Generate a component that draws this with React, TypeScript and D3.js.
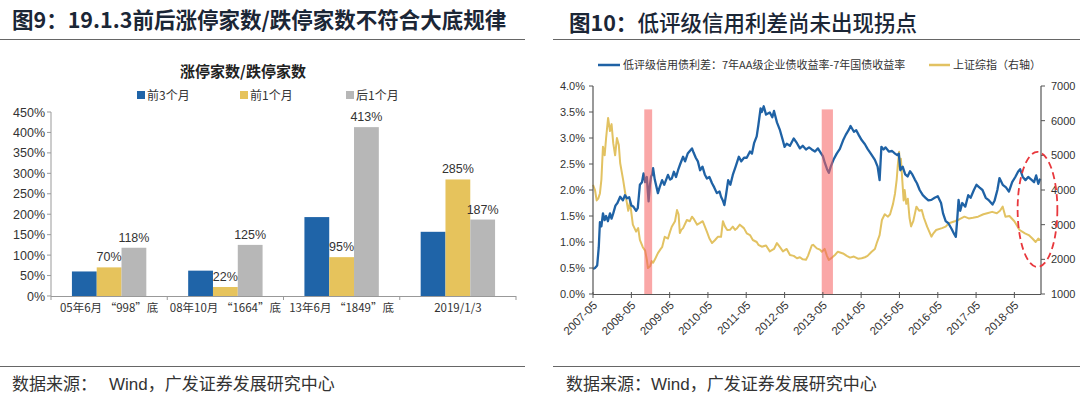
import React from "react";
import * as d3 from "d3";

// ---------- Left chart data ----------
const barCategories = ["05年6月 “998”底", "08年10月 “1664”底", "13年6月 “1849”底", "2019/1/3"];
const barSeriesNames = ["前3个月", "前1个月", "后1个月"];
const before3m = [60, 62, 193, 157];
const before1m = [70, 22, 95, 285];
const after1m = [118, 125, 413, 187];
const barYTicks = [0, 50, 100, 150, 200, 250, 300, 350, 400, 450];
const barColors = ["#1f64a8", "#e6c35c", "#b7b7b7"];

// ---------- Right chart data ----------
const spreadSeries: [string, number][] = [
  ["2007-05-01", 0.48], ["2007-05-20", 0.5], ["2007-06-10", 0.55], ["2007-06-25", 0.9], ["2007-07-06", 1.38],
  ["2007-07-20", 1.3], ["2007-08-04", 1.55], ["2007-08-20", 1.42], ["2007-09-03", 1.5], ["2007-09-20", 1.4],
  ["2007-10-10", 1.55], ["2007-10-25", 1.45], ["2007-11-10", 1.55], ["2007-12-01", 1.7], ["2007-12-20", 1.75],
  ["2008-01-15", 1.87], ["2008-02-10", 1.8], ["2008-03-01", 1.9], ["2008-03-20", 1.84], ["2008-04-10", 1.86],
  ["2008-05-01", 1.7], ["2008-05-20", 1.68], ["2008-06-15", 1.6], ["2008-07-01", 1.65], ["2008-07-21", 2.1],
  ["2008-08-10", 2.15], ["2008-08-25", 2.32], ["2008-09-10", 2.15], ["2008-09-25", 2.25], ["2008-10-06", 1.95],
  ["2008-10-12", 1.78], ["2008-10-25", 2.1], ["2008-11-05", 2.26], ["2008-11-15", 2.3], ["2008-11-24", 2.42],
  ["2008-12-10", 2.2], ["2009-01-09", 1.94], ["2009-01-25", 2.05], ["2009-02-18", 2.19], ["2009-03-10", 2.1],
  ["2009-04-15", 2.29], ["2009-05-05", 2.2], ["2009-05-21", 2.22], ["2009-06-10", 2.35], ["2009-07-01", 2.25],
  ["2009-07-20", 2.38], ["2009-08-10", 2.5], ["2009-09-06", 2.64], ["2009-09-25", 2.55], ["2009-10-20", 2.7],
  ["2009-11-30", 2.8], ["2009-12-15", 2.72], ["2010-01-05", 2.62], ["2010-01-25", 2.55], ["2010-02-15", 2.38],
  ["2010-03-10", 2.45], ["2010-04-01", 2.3], ["2010-04-21", 2.22], ["2010-05-15", 2.25], ["2010-06-09", 2.13],
  ["2010-06-30", 2.05], ["2010-07-25", 1.94], ["2010-08-20", 1.97], ["2010-09-03", 1.87], ["2010-09-20", 1.8],
  ["2010-10-05", 1.71], ["2010-10-20", 1.9], ["2010-11-10", 2.19], ["2010-12-01", 2.1], ["2010-12-24", 2.29],
  ["2011-01-20", 2.45], ["2011-02-20", 2.64], ["2011-03-15", 2.55], ["2011-04-10", 2.62], ["2011-05-06", 2.62],
  ["2011-06-06", 2.74], ["2011-06-25", 2.7], ["2011-07-15", 2.9], ["2011-08-09", 3.03], ["2011-08-25", 3.25],
  ["2011-09-15", 3.57], ["2011-09-27", 3.5], ["2011-10-15", 3.61], ["2011-11-06", 3.45], ["2011-12-12", 3.49],
  ["2012-01-05", 3.4], ["2012-01-21", 3.52], ["2012-02-18", 3.3], ["2012-03-18", 3.15], ["2012-04-15", 2.95],
  ["2012-05-01", 2.83], ["2012-05-21", 2.89], ["2012-06-21", 2.85], ["2012-07-27", 2.99], ["2012-08-27", 2.9],
  ["2012-09-24", 2.8], ["2012-10-21", 2.85], ["2012-11-21", 2.78], ["2012-12-20", 2.82], ["2013-01-15", 2.78],
  ["2013-02-15", 2.74], ["2013-03-15", 2.8], ["2013-04-03", 2.74], ["2013-05-01", 2.65], ["2013-05-20", 2.52],
  ["2013-06-10", 2.4], ["2013-06-27", 2.33], ["2013-07-15", 2.45], ["2013-08-10", 2.58], ["2013-09-10", 2.7],
  ["2013-10-10", 2.79], ["2013-11-09", 2.95], ["2013-12-05", 3.06], ["2014-01-01", 3.15], ["2014-01-20", 3.23],
  ["2014-02-21", 3.12], ["2014-03-15", 3.15], ["2014-04-10", 3.05], ["2014-05-06", 2.96], ["2014-06-06", 2.88],
  ["2014-07-01", 2.79], ["2014-08-01", 2.7], ["2014-09-09", 2.58], ["2014-10-05", 2.45], ["2014-10-24", 2.19],
  ["2014-11-10", 2.83], ["2014-12-01", 2.78], ["2014-12-20", 2.82], ["2015-01-20", 2.74], ["2015-02-20", 2.75],
  ["2015-03-20", 2.7], ["2015-04-10", 2.67], ["2015-04-25", 2.7], ["2015-05-10", 2.38], ["2015-06-01", 2.45],
  ["2015-06-25", 2.3], ["2015-07-18", 2.26], ["2015-08-10", 2.36], ["2015-09-01", 2.3], ["2015-09-25", 2.2],
  ["2015-10-15", 2.13], ["2015-11-10", 2.0], ["2015-12-10", 1.9], ["2016-01-05", 1.85], ["2016-02-01", 1.8],
  ["2016-03-01", 1.81], ["2016-04-01", 1.85], ["2016-05-01", 1.88], ["2016-06-01", 1.75], ["2016-06-20", 1.55],
  ["2016-07-15", 1.4], ["2016-08-10", 1.36], ["2016-09-10", 1.25], ["2016-10-05", 1.15], ["2016-10-20", 1.1],
  ["2016-11-01", 1.4], ["2016-11-15", 1.81], ["2016-12-01", 1.6], ["2016-12-20", 1.75], ["2017-01-18", 1.68],
  ["2017-02-15", 1.9], ["2017-03-10", 1.85], ["2017-04-10", 2.0], ["2017-05-05", 2.1], ["2017-06-01", 2.05],
  ["2017-07-01", 2.0], ["2017-08-01", 1.85], ["2017-09-01", 1.8], ["2017-10-05", 1.72], ["2017-10-25", 1.8],
  ["2017-11-20", 2.0], ["2017-12-10", 2.23], ["2018-01-10", 2.1], ["2018-02-10", 2.05], ["2018-03-10", 1.97],
  ["2018-04-10", 2.15], ["2018-05-10", 2.25], ["2018-06-05", 2.35], ["2018-06-25", 2.4], ["2018-07-20", 2.25],
  ["2018-08-15", 2.19], ["2018-09-10", 2.25], ["2018-10-10", 2.2], ["2018-11-05", 2.15], ["2018-11-25", 2.28],
  ["2018-12-15", 2.12], ["2019-01-03", 2.22],
];

const sseSeries: [string, number][] = [
  ["2007-05-01", 4150], ["2007-05-20", 4000], ["2007-06-05", 3700], ["2007-06-20", 3750], ["2007-07-06", 3900],
  ["2007-07-20", 4300], ["2007-08-04", 5250], ["2007-08-20", 5000], ["2007-09-03", 5500], ["2007-09-22", 6080],
  ["2007-10-10", 5700], ["2007-10-25", 5900], ["2007-11-10", 5350], ["2007-11-28", 5000], ["2007-12-15", 5500],
  ["2008-01-02", 5300], ["2008-01-15", 4780], ["2008-02-12", 4300], ["2008-03-01", 3950], ["2008-04-01", 3400],
  ["2008-04-18", 3650], ["2008-05-15", 3000], ["2008-06-15", 2800], ["2008-07-05", 2900], ["2008-07-21", 2560],
  ["2008-08-18", 2350], ["2008-09-09", 2250], ["2008-09-25", 2000], ["2008-10-06", 1750], ["2008-10-27", 1800],
  ["2008-11-10", 1950], ["2008-11-24", 1900], ["2008-12-12", 2000], ["2009-01-09", 2180], ["2009-02-05", 2300],
  ["2009-02-18", 2350], ["2009-03-15", 2650], ["2009-04-15", 2600], ["2009-05-05", 2800], ["2009-05-21", 2940],
  ["2009-06-21", 3100], ["2009-07-10", 3420], ["2009-07-25", 3300], ["2009-08-06", 2760], ["2009-08-20", 2850],
  ["2009-09-06", 2900], ["2009-10-12", 3135], ["2009-11-10", 3100], ["2009-11-30", 3230], ["2009-12-20", 3150],
  ["2010-01-18", 3000], ["2010-02-15", 3050], ["2010-03-12", 3100], ["2010-04-21", 2800], ["2010-05-15", 2600],
  ["2010-06-09", 2470], ["2010-07-06", 2550], ["2010-08-03", 2650], ["2010-09-03", 2650], ["2010-09-21", 3100],
  ["2010-10-10", 2950], ["2010-11-01", 2846], ["2010-11-27", 2850], ["2010-12-24", 2942], ["2011-01-15", 2850],
  ["2011-02-03", 2900], ["2011-03-01", 3000], ["2011-04-09", 2900], ["2011-05-06", 2750], ["2011-06-06", 2700],
  ["2011-07-03", 2558], ["2011-08-09", 2500], ["2011-08-25", 2420], ["2011-09-27", 2365], ["2011-11-06", 2400],
  ["2011-12-12", 2230], ["2012-01-21", 2300], ["2012-02-18", 2470], ["2012-03-18", 2350], ["2012-04-15", 2230],
  ["2012-05-21", 2300], ["2012-06-21", 2125], ["2012-07-27", 2100], ["2012-08-27", 2030], ["2012-09-24", 2060],
  ["2012-10-21", 2000], ["2012-11-21", 1990], ["2012-12-10", 2100], ["2013-01-15", 2400], ["2013-01-28", 2420],
  ["2013-03-04", 2317], ["2013-04-03", 2280], ["2013-04-21", 2220], ["2013-05-18", 2300], ["2013-06-09", 2100],
  ["2013-06-27", 1980], ["2013-07-27", 2050], ["2013-08-24", 2125], ["2013-09-21", 2220], ["2013-11-09", 2170],
  ["2013-12-15", 2100], ["2014-01-15", 2050], ["2014-02-21", 2080], ["2014-04-01", 2020], ["2014-05-06", 2030],
  ["2014-06-06", 2060], ["2014-07-01", 2100], ["2014-08-09", 2220], ["2014-09-09", 2300], ["2014-09-27", 2470],
  ["2014-10-24", 2700], ["2014-11-15", 3135], ["2014-12-12", 3300], ["2015-01-12", 3230], ["2015-02-01", 3300],
  ["2015-03-01", 3600], ["2015-03-20", 3900], ["2015-04-05", 4300], ["2015-04-15", 4700], ["2015-04-28", 5100],
  ["2015-05-05", 4600], ["2015-05-15", 4900], ["2015-05-28", 4300], ["2015-06-10", 3700], ["2015-06-20", 4000],
  ["2015-07-05", 3600], ["2015-07-20", 3750], ["2015-08-05", 3200], ["2015-08-20", 2950], ["2015-09-10", 3100],
  ["2015-10-10", 3520], ["2015-11-05", 3400], ["2015-11-30", 3425], ["2015-12-20", 3200], ["2016-01-20", 2942],
  ["2016-03-01", 2654], ["2016-03-20", 2750], ["2016-04-15", 2846], ["2016-06-10", 2900], ["2016-07-15", 2942],
  ["2016-08-15", 3040], ["2016-10-10", 3100], ["2016-11-20", 3150], ["2017-01-10", 3230], ["2017-02-20", 3180],
  ["2017-04-01", 3200], ["2017-05-20", 3230], ["2017-07-10", 3300], ["2017-08-15", 3330], ["2017-10-01", 3370],
  ["2017-11-15", 3330], ["2017-12-15", 3400], ["2018-01-10", 3520], ["2018-02-05", 3230], ["2018-03-15", 3250],
  ["2018-05-01", 3100], ["2018-06-20", 2846], ["2018-08-10", 2750], ["2018-09-15", 2700], ["2018-10-20", 2600],
  ["2018-11-20", 2500], ["2018-12-15", 2600], ["2019-01-03", 2550],
];

const xTickLabels = ["2007-05", "2008-05", "2009-05", "2010-05", "2011-05", "2012-05", "2013-05", "2014-05", "2015-05", "2016-05", "2017-05", "2018-05"];
const leftTicks = [0, 0.5, 1, 1.5, 2, 2.5, 3, 3.5, 4];
const rightTicks = [1000, 2000, 3000, 4000, 5000, 6000, 7000];
const highlightBands: [string, string][] = [["2008-09-01", "2008-11-15"], ["2013-04-20", "2013-08-05"]];
const bandTopValue = 3.55;
const ellipseDates: [string, string] = ["2018-06-01", "2019-06-15"];
const ellipseValues: [number, number] = [1780, 5100];
const legendRight = ["低评级信用债利差：7年AA级企业债收益率-7年国债收益率", "上证综指（右轴）"];

const CJK = "'Noto Sans CJK SC', 'Noto Sans', sans-serif";
const LAT = "'Liberation Sans', Arial, sans-serif";

export default function App() {
  const parse = d3.timeParse("%Y-%m-%d");
  const parseM = d3.timeParse("%Y-%m");

  // ---- left bar chart scales ----
  const x0 = d3.scaleBand<string>().domain(barCategories).range([51, 516]).paddingInner(0.36).paddingOuter(0.18);
  const x1 = d3.scaleBand<number>().domain([0, 1, 2]).range([0, x0.bandwidth()]);
  const yB = d3.scaleLinear().domain([0, 450]).range([296, 112]);
  const seriesVals = [before3m, before1m, after1m];
  const step = x0.step();
  const boundaries = barCategories.map((c) => (x0(c) as number) - step * 0.18).concat([516]);

  // ---- right line chart scales ----
  const xT = d3.scaleTime().domain([parse("2007-05-01") as Date, parse("2019-01-10") as Date]).range([593, 1041]);
  const yL = d3.scaleLinear().domain([0, 4]).range([294, 86]);
  const yR = d3.scaleLinear().domain([1000, 7000]).range([294, 86]);
  const spreadLine = d3.line<[string, number]>().x((d) => xT(parse(d[0]) as Date)).y((d) => yL(d[1])).curve(d3.curveLinear);
  const sseLine = d3.line<[string, number]>().x((d) => xT(parse(d[0]) as Date)).y((d) => yR(d[1])).curve(d3.curveLinear);

  const ex0 = xT(parse(ellipseDates[0]) as Date);
  const ex1 = xT(parse(ellipseDates[1]) as Date);
  const ey0 = yR(ellipseValues[1]);
  const ey1 = yR(ellipseValues[0]);

  return (
    <svg width={1080} height={397} style={{ position: "fixed", left: 0, top: 0, background: "#fff" }}>
      <rect x={0} y={0} width={1080} height={397} fill="#fff" />
      {/* ===== Left panel ===== */}
      <text x={12} y={28} fontFamily={CJK} fontSize={21.5} fontWeight={700} fill="#1b2636">
        图9：19.1.3前后涨停家数/跌停家数不符合大底规律
      </text>
      <line x1={0} x2={525} y1={39.5} y2={39.5} stroke="#666" strokeWidth={1.2} />
      <text x={243} y={77} textAnchor="middle" fontFamily={CJK} fontSize={15} fontWeight={700} fill="#222">
        涨停家数/跌停家数
      </text>
      {barSeriesNames.map((n, i) => {
        const lx = [137, 240, 346][i];
        return (
          <g key={n}>
            <rect x={lx} y={91} width={8} height={8} fill={barColors[i]} />
            <text x={lx + 10} y={99.5} fontFamily={CJK} fontSize={12} fill="#333">{n}</text>
          </g>
        );
      })}
      {/* y axis */}
      <line x1={51} x2={51} y1={112} y2={296} stroke="#999" />
      {barYTicks.map((t) => (
        <g key={t}>
          <line x1={47} x2={51} y1={yB(t)} y2={yB(t)} stroke="#999" />
          <text x={45} y={yB(t) + 4.5} textAnchor="end" fontFamily={LAT} fontSize={12.5} fill="#333">{t}%</text>
        </g>
      ))}
      {/* bars */}
      {barCategories.map((c, ci) => (
        <g key={c}>
          {seriesVals.map((vals, si) => {
            const bx = (x0(c) as number) + (x1(si) as number);
            return (
              <rect key={si} x={bx} y={yB(vals[ci])} width={x1.bandwidth()} height={yB(0) - yB(vals[ci])} fill={barColors[si]} />
            );
          })}
          {[1, 2].map((si) => {
            const bx = (x0(c) as number) + (x1(si) as number) + x1.bandwidth() / 2;
            return (
              <text key={si} x={bx} y={yB(seriesVals[si][ci]) - 6} textAnchor="middle" fontFamily={LAT} fontSize={12.5} fill="#333">
                {seriesVals[si][ci]}%
              </text>
            );
          })}
          <text x={(x0(c) as number) + x0.bandwidth() / 2} y={312} textAnchor="middle" fontFamily={CJK} fontSize={11.5} fill="#333">
            {c}
          </text>
        </g>
      ))}
      <line x1={51} x2={516} y1={296.5} y2={296.5} stroke="#999" />
      {boundaries.map((b, i) => (
        <line key={i} x1={b} x2={b} y1={296} y2={300} stroke="#999" />
      ))}
      <line x1={0} x2={525} y1={366.5} y2={366.5} stroke="#666" strokeWidth={1.2} />
      <text x={12} y={390} fontFamily={CJK} fontSize={17} fill="#333">
        数据来源：<tspan dx={12} fontFamily={LAT}>Wind</tspan>，广发证券发展研究中心
      </text>

      {/* ===== Right panel ===== */}
      <text x={569} y={31} fontFamily={CJK} fontSize={21.5} fontWeight={500} fill="#1b2636">
        <tspan fontWeight={700}>图10：</tspan>低评级信用利差尚未出现拐点
      </text>
      <line x1={553} x2={1080} y1={39.5} y2={39.5} stroke="#666" strokeWidth={1.2} />
      {/* legend */}
      <line x1={598} x2={620} y1={65} y2={65} stroke="#1f62a5" strokeWidth={2.5} />
      <text x={623} y={69} fontFamily={CJK} fontSize={11} fill="#333">{legendRight[0]}</text>
      <line x1={929} x2={950} y1={65} y2={65} stroke="#e2c262" strokeWidth={2.5} />
      <text x={953} y={69} fontFamily={CJK} fontSize={11} fill="#333">{legendRight[1]}</text>

      {/* lines */}
      <path d={sseLine(sseSeries) || ""} fill="none" stroke="#e2c262" strokeWidth={2} strokeLinejoin="round" />
      <path d={spreadLine(spreadSeries) || ""} fill="none" stroke="#1f62a5" strokeWidth={2.3} strokeLinejoin="round" />
      {/* highlight bands */}
      {highlightBands.map((b, i) => {
        const bx0 = xT(parse(b[0]) as Date);
        const bx1 = xT(parse(b[1]) as Date);
        return <rect key={i} x={bx0} y={yL(bandTopValue)} width={bx1 - bx0} height={yL(0) - yL(bandTopValue)} fill="rgba(245,95,95,0.55)" />;
      })}
      {/* axes */}
      <line x1={593} x2={593} y1={86} y2={294} stroke="#555" strokeWidth={1.2} />
      {leftTicks.map((t) => (
        <g key={t}>
          <line x1={589} x2={593} y1={yL(t)} y2={yL(t)} stroke="#555" />
          <text x={585} y={yL(t) + 4} textAnchor="end" fontFamily={LAT} fontSize={11} fill="#333">{t.toFixed(1)}%</text>
        </g>
      ))}
      <line x1={1041} x2={1041} y1={86} y2={294} stroke="#555" strokeWidth={1.2} />
      {rightTicks.map((t) => (
        <g key={t}>
          <line x1={1041} x2={1045} y1={yR(t)} y2={yR(t)} stroke="#555" />
          <text x={1051} y={yR(t) + 4} fontFamily={LAT} fontSize={11} fill="#333">{t}</text>
        </g>
      ))}
      <line x1={593} x2={1041} y1={294.5} y2={294.5} stroke="#555" strokeWidth={1.2} />
      {xTickLabels.map((t) => {
        const tx = xT(parseM(t) as Date);
        return (
          <g key={t}>
            <line x1={tx} x2={tx} y1={292} y2={298} stroke="#555" />
            <text transform={`translate(${tx + 5},${306}) rotate(-45)`} textAnchor="end" fontFamily={LAT} fontSize={11.5} fill="#333">
              {t}
            </text>
          </g>
        );
      })}
      {/* red dashed ellipse */}
      <ellipse cx={(ex0 + ex1) / 2} cy={(ey0 + ey1) / 2} rx={(ex1 - ex0) / 2} ry={(ey1 - ey0) / 2} fill="none" stroke="#e8383d" strokeWidth={1.8} strokeDasharray="7,4" />

      <line x1={553} x2={1080} y1={366.5} y2={366.5} stroke="#666" strokeWidth={1.2} />
      <text x={566} y={390} fontFamily={CJK} fontSize={17} fill="#333">
        数据来源：<tspan fontFamily={LAT}>Wind</tspan>，广发证券发展研究中心
      </text>
    </svg>
  );
}
